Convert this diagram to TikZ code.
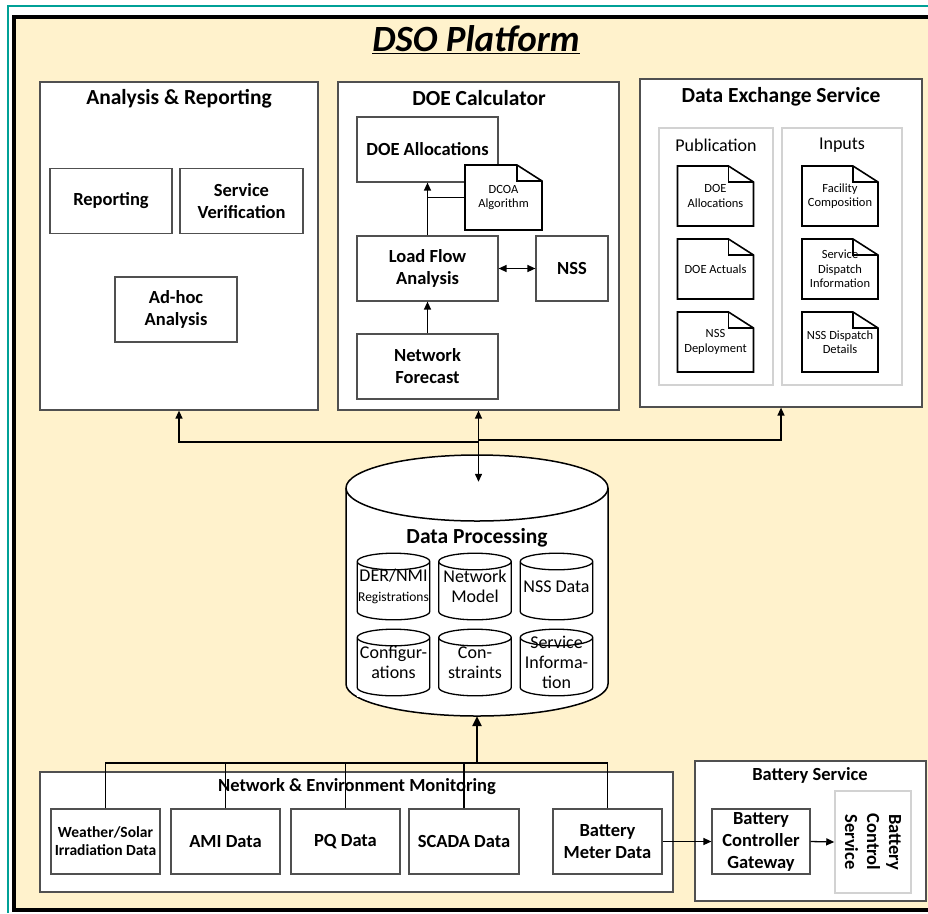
\documentclass[tikz,border=0pt]{standalone}
\usepackage{fontspec}
\setmainfont{Carlito}
\usetikzlibrary{arrows.meta}
\definecolor{platform}{RGB}{255,242,204}
\definecolor{frameteal}{RGB}{0,160,150}
\definecolor{boxgray}{RGB}{80,80,80}
\definecolor{panelgray}{RGB}{210,210,210}
\begin{document}
\begin{tikzpicture}[x=1pt, y=-1pt, >={Triangle[length=8pt,width=7pt]},
  box/.style={rectangle, draw=boxgray, line width=1.2pt, fill=white, inner sep=0pt},
  unit/.style={box, align=center, font=\fontsize{18.5}{22}\selectfont\bfseries, minimum height=65},
  panel/.style={rectangle, draw=panelgray, line width=1.5pt, fill=white, inner sep=0pt},
  btitle/.style={font=\fontsize{21.5}{25}\selectfont\bfseries, inner sep=0pt},
  stitle/.style={font=\fontsize{18.5}{22}\selectfont\bfseries, inner sep=0pt},
  ptitle/.style={font=\fontsize{18}{21}\selectfont, inner sep=0pt},
  doc/.style={rectangle, fill=white, inner sep=0pt, align=center, minimum width=78, minimum height=62,
    font=\fontsize{12.5}{14.5}\selectfont,
    path picture={
      \draw[black, line width=1.6pt, line join=miter]
        ([xshift=1pt,yshift=-1pt]path picture bounding box.north west)
        -- ([xshift=-26pt,yshift=-1pt]path picture bounding box.north east)
        -- ([xshift=-1pt,yshift=-17pt]path picture bounding box.north east)
        -- ([xshift=-1pt,yshift=1pt]path picture bounding box.south east)
        -- ([xshift=1pt,yshift=1pt]path picture bounding box.south west) -- cycle;
      \draw[black, line width=1.6pt]
        ([xshift=-26pt,yshift=-1pt]path picture bounding box.north east)
        |- ([xshift=-1pt,yshift=-17pt]path picture bounding box.north east);
    }},
  db/.style={rectangle, fill=white, inner sep=0pt, minimum width=74, minimum height=68, align=center,
    font=\fontsize{18}{20}\selectfont,
    path picture={
      \draw[black, line width=1.3pt]
        ([xshift=0.7pt,yshift=-9pt]path picture bounding box.north west)
        -- ([xshift=0.7pt,yshift=9pt]path picture bounding box.south west)
        arc[start angle=180, end angle=360, x radius=36.3pt, y radius=8.3pt]
        -- ([xshift=-0.7pt,yshift=-9pt]path picture bounding box.north east)
        arc[start angle=0, end angle=180, x radius=36.3pt, y radius=8.3pt]
        arc[start angle=180, end angle=360, x radius=36.3pt, y radius=8.3pt];
    }},
  dbline/.style={black, line width=1.5pt},
  conn/.style={line width=1.3pt, black},
  feed/.style={line width=2.6pt, black, >={Triangle[length=10pt,width=9pt]}}]
\useasboundingbox (0,0) rectangle (928,913);
\fill[white] (0,0) rectangle (928,913);
\draw[frameteal, line width=2pt] (8,913) -- (8,6) -- (928,6);
\fill[platform] (14,17) rectangle (928,910);
\draw[black, line width=3.5pt] (928,17) -- (14,17) -- (14,910) -- (928,910);
\node[font=\fontsize{37}{42}\selectfont\bfseries\itshape, inner sep=0pt] (dso) at (476,40) {\underline{DSO Platform}};

% analysis and reporting
\node[box, minimum width=278, minimum height=328] (ar) at (179,246) {};
\node[btitle] (artitle) at (179,99) {Analysis \& Reporting};
\node[unit, minimum width=122] (rep) at (111,201) {Reporting};
\node[unit, minimum width=123] (sv) at (241.5,201) {Service\\Verification};
\node[unit, minimum width=122] (adhoc) at (176,309.5) {Ad-hoc\\Analysis};

% doe calculator
\node[box, minimum width=281, minimum height=328] (doe) at (478.5,246) {};
\node[btitle] (doetitle) at (479,98) {DOE Calculator};
\node[unit, minimum width=141] (alloc) at (427.5,149.5) {DOE Allocations};
\node[doc, minimum width=79, minimum height=67] (dcoa) at (503.5,197.5) {DCOA\\Algorithm};
\node[unit, minimum width=141] (lfa) at (427.5,268.5) {Load Flow\\Analysis};
\node[unit, minimum width=72] (nss) at (572,268.5) {NSS};
\node[unit, minimum width=141] (nf) at (427.5,366.5) {Network\\Forecast};
\draw[conn,->] (lfa.north) -- (alloc.south);
\draw[conn] (dcoa.west) -- (lfa.north |- dcoa.west);
\draw[conn,<->] (lfa.east) -- (nss.west);
\draw[conn,->] (nf.north) -- (lfa.south);

% data exchange service
\node[box, minimum width=282, minimum height=328] (des) at (781,243) {};
\node[btitle] (destitle) at (781,97) {Data Exchange Service};
\node[panel, minimum width=114, minimum height=257] (pub) at (716,256.5) {};
\node[panel, minimum width=120, minimum height=257] (inp) at (842,256.5) {};
\node[ptitle] (pubtitle) at (716,145) {Publication};
\node[ptitle] (inptitle) at (842,145) {Inputs};
\node[doc] (pdoe) at (715.5,196) {DOE\\Allocations};
\node[doc] (pact) at (715.5,269) {DOE Actuals};
\node[doc] (pnss) at (715.5,342) {NSS\\Deployment};
\node[doc] (ifac) at (840,196) {Facility\\Composition};
\node[doc] (idisp) at (840,269) {Service\\Dispatch\\Information};
\node[doc] (insd) at (840,342) {NSS Dispatch\\Details};

% data processing
\draw[dbline, fill=white] (346,488) -- (346,684)
  arc[start angle=180, end angle=360, x radius=131pt, y radius=32pt] -- (608,488)
  arc[start angle=0, end angle=180, x radius=131pt, y radius=33pt] -- cycle;
\draw[dbline] (346,488) arc[start angle=180, end angle=360, x radius=131pt, y radius=33pt];
\node[inner sep=0pt, minimum width=262, minimum height=261] (dp) at (477,585.5) {};
\node[btitle] (dptitle) at (477,538) {Data Processing};
\node[db] (reg) at (393.5,586.5) {DER/NMI\\{\fontsize{13.5}{15}\selectfont Registrations}};
\node[db] (netm) at (475,586.5) {Network\\Model};
\node[db] (nssd) at (556.5,586.5) {NSS Data};
\node[db] (conf) at (393.5,662.5) {Configur-\\ations};
\node[db] (cons) at (475,662.5) {Con-\\straints};
\node[db] (svci) at (556.5,662.5) {Service\\Informa-\\tion};

\coordinate (hubL) at (478,442);
\coordinate (hubR) at (478,440);
\coordinate (dptop) at ([yshift=-27pt]dp.north);
\draw[conn,->] (hubL) -| (ar.south);
\draw[conn,->] (hubR) -| (des.south);
\draw[conn,<->] (doe.south) -- (doe.south |- dptop);

% network and environment monitoring
\node[box, minimum width=633, minimum height=120] (nem) at (356.5,832) {};
\node[stitle] (nemtitle) at (357,787) {Network \& Environment Monitoring};
\node[unit, minimum width=109, font=\fontsize{15.5}{18}\selectfont\bfseries] (wx) at (105.5,841.5) {Weather/Solar\\Irradiation Data};
\node[unit, minimum width=109] (ami) at (225.5,841.5) {AMI Data};
\node[unit, minimum width=109] (pq) at (345.5,841.5) {PQ Data};
\node[unit, minimum width=110] (scada) at (464,841.5) {SCADA Data};
\node[unit, minimum width=109] (bmeter) at (607.5,841.5) {Battery\\Meter Data};

% battery service
\node[box, minimum width=231, minimum height=140] (bs) at (810.5,831) {};
\node[stitle] (bstitle) at (810,775) {Battery Service};
\node[unit, minimum width=98] (bcg) at (761,841.5) {Battery\\Controller\\Gateway};
\node[panel, minimum width=76, minimum height=102] (bcs) at (873,842) {};
\node[stitle, rotate=-90, align=center] (bcstext) at (bcs) {Battery\\Control\\Service};

\coordinate (bus) at (477,763);
\foreach \src in {wx,ami,pq,scada,bmeter}
  \draw[conn] (\src.north) |- (bus);
\draw[feed,->] (scada.north |- bus) -- (bus) -- (dp.south);
\draw[conn,->] (bmeter.east) -- (bcg.west);
\draw[conn,->] (bcg.east) -- (bcs.west);
\end{tikzpicture}
\end{document}
